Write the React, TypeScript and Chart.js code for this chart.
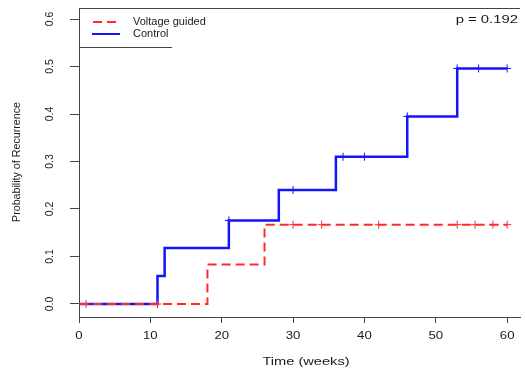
import React, { useEffect, useRef } from 'react';
import { Chart, registerables } from 'chart.js';

Chart.register(...registerables);

// ---- data ----
const seriesLabels = ['Voltage guided', 'Control'];
const voltageTimes = [0, 18, 26, 60];
const voltageProb = [0, 0.083, 0.167, 0.167];
const controlTimes = [0, 11, 12, 21, 28, 36, 46, 53, 60];
const controlProb = [0, 0.059, 0.118, 0.176, 0.24, 0.31, 0.395, 0.496, 0.496];
const voltageCensorTimes = [1, 11, 30, 34, 42, 53, 55.5, 58, 60];
const voltageCensorProb = [0, 0, 0.167, 0.167, 0.167, 0.167, 0.167, 0.167, 0.167];
const controlCensorTimes = [21, 30, 37, 40, 46, 53, 56, 60];
const controlCensorProb = [0.176, 0.24, 0.31, 0.31, 0.395, 0.496, 0.496, 0.496];
const xTicks = [0, 10, 20, 30, 40, 50, 60];
const yTicks = [0, 0.1, 0.2, 0.3, 0.4, 0.5, 0.6];
const xTitle = 'Time (weeks)';
const yTitle = 'Probability of Recurrence';
const pValueText = 'p = 0.192';

const RED = '#ff2b2b';
const BLUE = '#1414ff';
const AXIS = '#444444';
const TEXT = '#1a1a1a';
const FONT = '"Liberation Sans", Arial, sans-serif';

function drawStretched(ctx: CanvasRenderingContext2D, text: string, x: number, y: number, sx: number, align: CanvasTextAlign) {
  ctx.save();
  ctx.translate(x, y);
  ctx.scale(sx, 1);
  ctx.textAlign = align;
  ctx.fillText(text, 0, 0);
  ctx.restore();
}

const decorPlugin = {
  id: 'decor',
  afterDraw(chart: any) {
    const { ctx, chartArea } = chart;
    const xs = chart.scales.x;
    const ys = chart.scales.y;
    ctx.save();
    // top border of the box
    ctx.strokeStyle = AXIS;
    ctx.lineWidth = 1;
    ctx.beginPath();
    ctx.moveTo(chartArea.left, chartArea.top + 0.5);
    ctx.lineTo(chartArea.right, chartArea.top + 0.5);
    ctx.stroke();

    ctx.fillStyle = TEXT;
    ctx.textBaseline = 'middle';
    // x tick labels
    ctx.font = `11px ${FONT}`;
    xs.ticks.forEach((t: any) => {
      drawStretched(ctx, String(t.value), xs.getPixelForValue(t.value), 336, 1.2, 'center');
    });
    // y tick labels (rotated)
    ctx.font = `10.5px ${FONT}`;
    ys.ticks.forEach((t: any) => {
      ctx.save();
      ctx.translate(50, ys.getPixelForValue(t.value));
      ctx.rotate(-Math.PI / 2);
      ctx.textAlign = 'center';
      ctx.fillText(t.value.toFixed(1), 0, 0);
      ctx.restore();
    });
    // x title
    ctx.font = `11px ${FONT}`;
    drawStretched(ctx, xTitle, 306, 362, 1.33, 'center');
    // y title
    ctx.save();
    ctx.font = `10.7px ${FONT}`;
    ctx.translate(17.5, 162);
    ctx.rotate(-Math.PI / 2);
    ctx.textAlign = 'center';
    ctx.fillText(yTitle, 0, 0);
    ctx.restore();
    // p value
    ctx.font = `11px ${FONT}`;
    drawStretched(ctx, pValueText, 518, 20, 1.35, 'right');

    // legend
    const ds = chart.data.datasets;
    const rows = [
      { d: ds[0], y: 22, x1: 93, x2: 116 },
      { d: ds[2], y: 34, x1: 92, x2: 120 },
    ];
    rows.forEach((r) => {
      ctx.save();
      ctx.strokeStyle = r.d.borderColor;
      ctx.lineWidth = 2;
      ctx.setLineDash(r.d.borderDash || []);
      ctx.beginPath();
      ctx.moveTo(r.x1, r.y);
      ctx.lineTo(r.x2, r.y);
      ctx.stroke();
      ctx.restore();
      ctx.fillStyle = TEXT;
      ctx.font = `11px ${FONT}`;
      ctx.textAlign = 'left';
      ctx.fillText(r.d.label, 133, r.y);
    });
    ctx.strokeStyle = AXIS;
    ctx.lineWidth = 1;
    ctx.beginPath();
    ctx.moveTo(chartArea.left, 47.5);
    ctx.lineTo(172, 47.5);
    ctx.stroke();
    ctx.restore();
  },
};

export default function App() {
  const ref = useRef<HTMLCanvasElement | null>(null);
  useEffect(() => {
    if (!ref.current) return;
    const toPts = (xs: number[], ys: number[]) => xs.map((x, i) => ({ x, y: ys[i] }));
    const chart = new Chart(ref.current, {
      type: 'line',
      data: {
        datasets: [
          {
            label: seriesLabels[0],
            data: toPts(voltageTimes, voltageProb),
            borderColor: RED,
            borderWidth: 2,
            borderDash: [9, 5],
            stepped: 'before',
            pointRadius: 0,
            fill: false,
          } as any,
          {
            label: seriesLabels[0] + ' censored',
            data: toPts(voltageCensorTimes, voltageCensorProb),
            showLine: false,
            pointStyle: 'cross',
            pointRadius: 4,
            pointBorderWidth: 1,
            borderColor: RED,
            backgroundColor: RED,
          } as any,
          {
            label: seriesLabels[1],
            data: toPts(controlTimes, controlProb),
            borderColor: BLUE,
            borderWidth: 2.5,
            stepped: 'before',
            pointRadius: 0,
            fill: false,
          } as any,
          {
            label: seriesLabels[1] + ' censored',
            data: toPts(controlCensorTimes, controlCensorProb),
            showLine: false,
            pointStyle: 'cross',
            pointRadius: 4,
            pointBorderWidth: 1,
            borderColor: BLUE,
            backgroundColor: BLUE,
          } as any,
        ],
      },
      options: {
        animation: false,
        responsive: false,
        maintainAspectRatio: false,
        layout: { padding: { top: 8, left: 0, right: 0, bottom: 0 } },
        plugins: { legend: { display: false }, tooltip: { enabled: false } },
        scales: {
          x: {
            type: 'linear',
            min: 0,
            max: 61.8,
            afterBuildTicks: (s: any) => {
              s.ticks = xTicks.map((v) => ({ value: v }));
            },
            afterFit: (s: any) => {
              s.height = 52;
            },
            ticks: { display: false },
            grid: { display: true, drawOnChartArea: false, drawTicks: true, tickLength: 6, color: AXIS },
            border: { display: true, color: AXIS, width: 1 },
          },
          y: {
            type: 'linear',
            min: -0.0274,
            max: 0.6232,
            afterBuildTicks: (s: any) => {
              s.ticks = yTicks.map((v) => ({ value: v }));
            },
            afterFit: (s: any) => {
              s.width = 79;
            },
            ticks: { display: false },
            grid: { display: true, drawOnChartArea: false, drawTicks: true, tickLength: 9, color: AXIS },
            border: { display: true, color: AXIS, width: 1 },
          },
        },
      },
      plugins: [decorPlugin],
    });
    return () => chart.destroy();
  }, []);
  return (
    <div style={{ position: 'fixed', left: 0, top: 0, width: 525, height: 369, background: '#fff' }}>
      <canvas ref={ref} width={525} height={369} style={{ display: 'block' }} />
    </div>
  );
}
